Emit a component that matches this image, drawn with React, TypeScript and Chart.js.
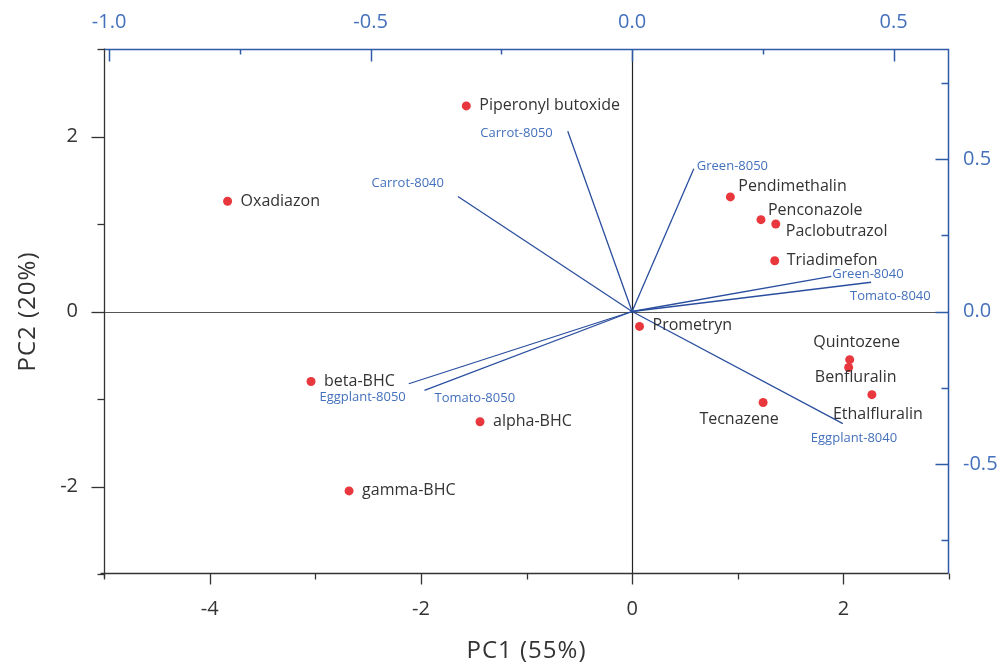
import React, { useEffect, useRef } from 'react';
import { Chart, registerables } from 'chart.js';

Chart.register(...registerables);

// ---- Scores (PC1, PC2) ----
const scoreNames = [
  'Piperonyl butoxide', 'Oxadiazon', 'Pendimethalin', 'Penconazole', 'Paclobutrazol',
  'Triadimefon', 'Prometryn', 'Quintozene', 'Benfluralin', 'Ethalfluralin',
  'Tecnazene', 'beta-BHC', 'alpha-BHC', 'gamma-BHC',
];
const scoreX = [-1.57, -3.83, 0.93, 1.22, 1.36, 1.35, 0.07, 2.06, 2.05, 2.27, 1.24, -3.04, -1.44, -2.68];
const scoreY = [2.35, 1.26, 1.31, 1.05, 1.0, 0.58, -0.17, -0.55, -0.64, -0.95, -1.04, -0.8, -1.26, -2.05];

// ---- Loadings (top / right axes) ----
const loadingNames = [
  'Carrot-8050', 'Carrot-8040', 'Green-8050', 'Green-8040',
  'Tomato-8040', 'Eggplant-8050', 'Tomato-8050', 'Eggplant-8040',
];
const loadingX = [-0.123, -0.333, 0.118, 0.381, 0.457, -0.427, -0.397, 0.403];
const loadingY = [0.591, 0.377, 0.468, 0.115, 0.096, -0.237, -0.259, -0.368];

// ---- Ticks ----
const xMajorTicks = [-4, -2, 0, 2];
const xMinorTicks = [-5, -3, -1, 1, 3];
const yMajorTicks = [-2, 0, 2];
const yMinorTicks = [-3, -1, 1, 3];
const x2MajorTicks = [-1.0, -0.5, 0.0, 0.5];
const x2MinorTicks = [-0.75, -0.25, 0.25];
const y2MajorTicks = [-0.5, 0.0, 0.5];
const y2MinorTicks = [-0.75, -0.25, 0.25, 0.75];

const xTitle = 'PC1 (55%)';
const yTitle = 'PC2 (20%)';

// ---- label placement (style) : [dx, dy, align] ----
const scoreLabelPos: [number, number, CanvasTextAlign][] = [
  [13, 0, 'left'], [13, 0, 'left'], [8, -10, 'left'], [7, -9, 'left'], [10, 7, 'left'],
  [12, 0, 'left'], [13, -1, 'left'], [7, -17, 'center'], [7, 10, 'center'], [6, 20, 'center'],
  [-24, 17, 'center'], [13, 0, 'left'], [13, 0, 'left'], [13, 0, 'left'],
];
const loadingLabelPos: [number, number, CanvasTextAlign][] = [
  [-15, 2, 'right'], [-14, -13, 'right'], [3, -3, 'left'], [1, -2, 'left'],
  [-21, 14, 'left'], [-3, 14, 'right'], [10, 8, 'left'], [-32, 15, 'left'],
];

const BLUE_AXIS = '#2F5AA6';
const BLUE_TEXT = '#4470BC';
const BLUE_LINE = '#2A4E9E';
const DARK = '#333333';
const FONT = '"Open Sans", "DejaVu Sans", sans-serif';

const overlay = {
  id: 'overlay',
  beforeDatasetsDraw(chart: any) {
    const { ctx, chartArea: a, scales } = chart;
    const x0 = Math.round(scales.x.getPixelForValue(0)) + 0.5;
    const y0 = Math.round(scales.y.getPixelForValue(0)) + 0.5;
    ctx.save();
    ctx.lineWidth = 1.2;
    ctx.strokeStyle = '#555';
    ctx.beginPath(); ctx.moveTo(a.left, y0); ctx.lineTo(a.right, y0); ctx.stroke();
    ctx.strokeStyle = '#222';
    ctx.beginPath(); ctx.moveTo(x0, a.top); ctx.lineTo(x0, a.bottom); ctx.stroke();
    ctx.restore();
  },
  afterDatasetsDraw(chart: any) {
    const { ctx, scales } = chart;
    ctx.save();
    ctx.textBaseline = 'middle';
    ctx.font = `16px ${FONT}`;
    ctx.fillStyle = DARK;
    scoreNames.forEach((n, i) => {
      const px = scales.x.getPixelForValue(scoreX[i]);
      const py = scales.y.getPixelForValue(scoreY[i]);
      const [dx, dy, al] = scoreLabelPos[i];
      ctx.textAlign = al;
      ctx.fillText(n, px + dx, py + dy);
    });
    ctx.font = `13px ${FONT}`;
    ctx.fillStyle = BLUE_TEXT;
    loadingNames.forEach((n, i) => {
      const px = scales.x2.getPixelForValue(loadingX[i]);
      const py = scales.y2.getPixelForValue(loadingY[i]);
      const [dx, dy, al] = loadingLabelPos[i];
      ctx.textAlign = al;
      ctx.fillText(n, px + dx, py + dy);
    });
    ctx.restore();
  },
  afterDraw(chart: any) {
    const { ctx, chartArea: a, scales } = chart;
    const L = Math.round(a.left) + 0.5;
    const R = Math.round(a.right) - 0.5;
    const T = Math.round(a.top) + 0.5;
    const B = Math.round(a.bottom) - 0.5;
    ctx.save();
    // black left & bottom axes
    ctx.strokeStyle = DARK;
    ctx.lineWidth = 1.3;
    ctx.beginPath(); ctx.moveTo(L, T - 1); ctx.lineTo(L, B + 4); ctx.stroke();
    ctx.beginPath(); ctx.moveTo(L - 4, B); ctx.lineTo(R, B); ctx.stroke();
    const tick = (x1: number, y1: number, x2: number, y2: number) => {
      ctx.beginPath(); ctx.moveTo(x1, y1); ctx.lineTo(x2, y2); ctx.stroke();
    };
    xMajorTicks.forEach(v => { const p = Math.round(scales.x.getPixelForValue(v)) + 0.5; tick(p, B, p, B + 11); });
    xMinorTicks.forEach(v => { const p = Math.round(scales.x.getPixelForValue(v)) + 0.5; tick(p, B, p, B + 6); });
    yMajorTicks.forEach(v => { const p = Math.round(scales.y.getPixelForValue(v)) + 0.5; tick(L, p, L - 13, p); });
    yMinorTicks.forEach(v => { const p = Math.round(scales.y.getPixelForValue(v)) + 0.5; tick(L, p, L - 7, p); });
    // blue top & right axes
    ctx.strokeStyle = BLUE_AXIS;
    ctx.lineWidth = 1.5;
    ctx.beginPath(); ctx.moveTo(L, T); ctx.lineTo(R, T); ctx.lineTo(R, B); ctx.stroke();
    x2MajorTicks.forEach(v => { const p = Math.round(scales.x2.getPixelForValue(v)) + 0.5; tick(p, T, p, T + 12); });
    x2MinorTicks.forEach(v => { const p = Math.round(scales.x2.getPixelForValue(v)) + 0.5; tick(p, T, p, T + 5); });
    y2MajorTicks.forEach(v => { const p = Math.round(scales.y2.getPixelForValue(v)) + 0.5; tick(R, p, R - 13, p); });
    y2MinorTicks.forEach(v => { const p = Math.round(scales.y2.getPixelForValue(v)) + 0.5; tick(R, p, R - 7, p); });
    // titles
    ctx.fillStyle = DARK;
    ctx.font = `24px ${FONT}`;
    ctx.textAlign = 'center';
    ctx.textBaseline = 'middle';
    try { (ctx as any).letterSpacing = '1px'; } catch (e) { /* ignore */ }
    ctx.fillText(xTitle, (a.left + a.right) / 2, 651);
    ctx.translate(28, (a.top + a.bottom) / 2);
    ctx.rotate(-Math.PI / 2);
    ctx.fillText(yTitle, 0, 0);
    ctx.restore();
  },
};

export default function App() {
  const ref = useRef<HTMLCanvasElement | null>(null);
  useEffect(() => {
    if (!ref.current) return;
    const loadingDatasets = loadingNames.map((n, i) => ({
      type: 'line' as const,
      label: n,
      data: [{ x: 0, y: 0 }, { x: loadingX[i], y: loadingY[i] }],
      xAxisID: 'x2',
      yAxisID: 'y2',
      borderColor: BLUE_LINE,
      borderWidth: 1.3,
      pointRadius: 0,
      fill: false,
      tension: 0,
    }));
    const chart = new Chart(ref.current, {
      type: 'scatter',
      data: {
        datasets: [
          ...loadingDatasets,
          {
            type: 'scatter' as const,
            label: 'scores',
            data: scoreX.map((x, i) => ({ x, y: scoreY[i] })),
            xAxisID: 'x',
            yAxisID: 'y',
            backgroundColor: '#E8383D',
            borderColor: '#E8383D',
            borderWidth: 0,
            pointRadius: 4.5,
          },
        ] as any,
      },
      options: {
        animation: false,
        responsive: false,
        layout: { padding: 0 },
        plugins: { legend: { display: false }, tooltip: { enabled: false } },
        scales: {
          x: {
            type: 'linear', position: 'bottom', min: -5, max: 3,
            grid: { display: false }, border: { display: false },
            afterBuildTicks: (s: any) => { s.ticks = xMajorTicks.map(v => ({ value: v })); },
            afterFit: (s: any) => { s.height = 89; },
            ticks: { font: { size: 20, family: FONT }, color: DARK, padding: 15, callback: (v: any) => String(v) },
          },
          x2: {
            type: 'linear', position: 'top', min: -1.0098, max: 0.606,
            grid: { display: false }, border: { display: false },
            afterBuildTicks: (s: any) => { s.ticks = x2MajorTicks.map(v => ({ value: v })); },
            afterFit: (s: any) => { s.height = 49; },
            ticks: { font: { size: 20, family: FONT }, color: BLUE_TEXT, padding: 7, callback: (v: any) => Number(v).toFixed(1) },
          },
          y: {
            type: 'linear', position: 'left', min: -3, max: 3,
            grid: { display: false }, border: { display: false },
            afterBuildTicks: (s: any) => { s.ticks = yMajorTicks.map(v => ({ value: v })); },
            afterFit: (s: any) => { s.width = 104; },
            ticks: { font: { size: 20, family: FONT }, color: DARK, padding: 18, callback: (v: any) => String(v) },
          },
          y2: {
            type: 'linear', position: 'right', min: -0.861, max: 0.861,
            grid: { display: false }, border: { display: false },
            afterBuildTicks: (s: any) => { s.ticks = y2MajorTicks.map(v => ({ value: v })); },
            afterFit: (s: any) => { s.width = 53; },
            ticks: { font: { size: 20, family: FONT }, color: BLUE_TEXT, padding: 6, callback: (v: any) => Number(v).toFixed(1) },
          },
        },
      } as any,
      plugins: [overlay],
    });
    return () => chart.destroy();
  }, []);
  return (
    <div style={{ position: 'absolute', left: 0, top: 0, width: 1002, height: 663, background: '#fff' }}>
      <canvas ref={ref} width={1002} height={663} style={{ display: 'block' }} />
    </div>
  );
}
